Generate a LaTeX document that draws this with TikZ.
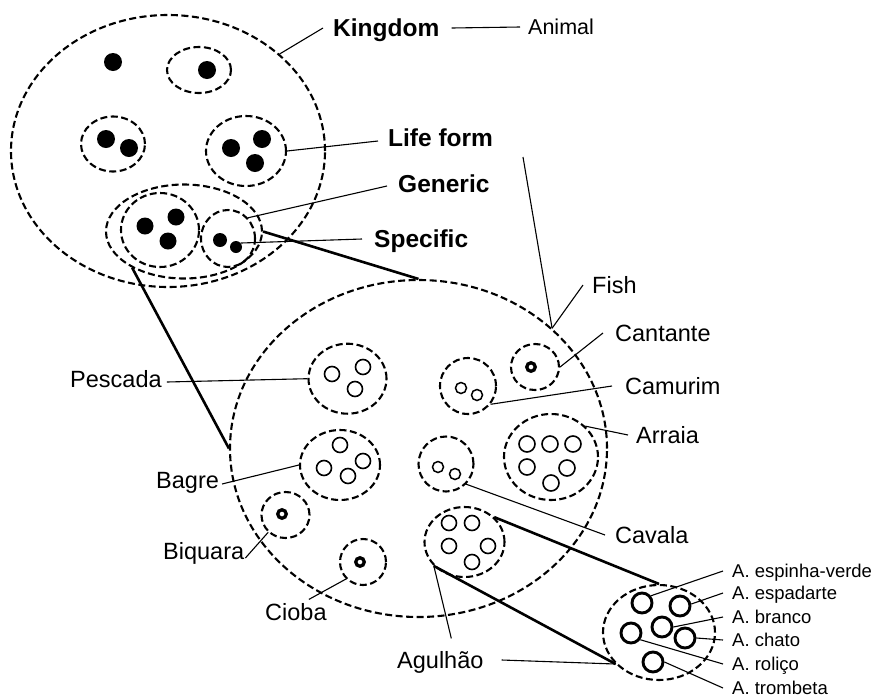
\documentclass[tikz,border=0pt]{standalone}
\usepackage{fontspec}
\setmainfont{Liberation Sans}
\usetikzlibrary{shapes.geometric}
\begin{document}
\begin{tikzpicture}[x=1pt,y=-1pt,
 ring/.style={ellipse, draw, dash pattern=on 7pt off 3.5pt, line width=2.1pt, inner sep=0pt},
 dot/.style={circle, fill=black, inner sep=0pt},
 oc/.style={circle, draw, line width=1.6pt, inner sep=0pt, minimum size=15pt},
 ocs/.style={circle, draw, line width=1.5pt, inner sep=0pt, minimum size=11pt},
 tr/.style={circle, draw, line width=3.3pt, inner sep=0pt, minimum size=8.5pt},
 ac/.style={circle, draw, line width=2.9pt, inner sep=0pt, minimum size=20pt},
 lbl/.style={anchor=west, inner sep=0pt, font=\fontsize{23.5}{23.5}\selectfont, text height=16.8pt, text depth=0pt},
 blbl/.style={anchor=west, inner sep=0pt, font=\fontsize{24.5}{24.5}\selectfont\bfseries, text height=17.5pt, text depth=0pt},
 albl/.style={anchor=west, inner sep=0pt, font=\fontsize{18.5}{18.5}\selectfont, text height=13.3pt, text depth=0pt},
 cn/.style={line width=1.1pt},
 tk/.style={line width=2.6pt},
]
\useasboundingbox (0,0) rectangle (879,697);

% ---------- Kingdom ----------
\node[ring, minimum width=314pt, minimum height=272pt] (K) at (168,151) {};
\node[dot, minimum size=18pt] (d1) at (113,62) {};
\node[ring, minimum width=64pt, minimum height=46pt] (k2) at (199,70) {};
\node[dot, minimum size=18pt] (d2) at (207,70) {};
\node[ring, minimum width=64pt, minimum height=55pt] (k3) at (113,144) {};
\node[dot, minimum size=18pt] (d3) at (106,139) {};
\node[dot, minimum size=18pt] (d4) at (129,148) {};
\node[ring, minimum width=80pt, minimum height=70pt] (k4) at (246,151) {};
\node[dot, minimum size=18pt] (d5) at (231,148) {};
\node[dot, minimum size=18pt] (d6) at (262,139) {};
\node[dot, minimum size=18pt] (d7) at (255,163) {};
\node[ring, minimum width=156pt, minimum height=94pt] (gen) at (184,231.5) {};
\node[ring, minimum width=78pt, minimum height=74pt] (gen1) at (160,230) {};
\node[dot, minimum size=17pt] (d8) at (145,226) {};
\node[dot, minimum size=17pt] (d9) at (176,217) {};
\node[dot, minimum size=17pt] (d10) at (168,241) {};
\node[ring, minimum width=54pt, minimum height=57pt] (spec) at (228,238.5) {};
\node[dot, minimum size=14pt] (s1) at (220,240) {};
\node[dot, minimum size=12pt] (s2) at (236,247) {};

\node[blbl] (tKing) at (333,28) {Kingdom};
\node[lbl, font=\fontsize{21.5}{21.5}\selectfont, text height=15.4pt] (tAnim) at (528,27) {Animal};
\node[blbl] (tLife) at (388,138) {Life form};
\node[blbl] (tGen) at (398,184) {Generic};
\node[blbl] (tSpec) at (374,239) {Specific};

% ---------- Fish ----------
\node[ring, minimum width=377pt, minimum height=337pt] (F) at (418.5,448.5) {};

\node[ring, minimum width=78pt, minimum height=70pt] (pesc) at (347.5,378.7) {};
\node[oc] (p1) at (332,374) {};
\node[oc] (p2) at (363,367) {};
\node[oc] (p3) at (355,389) {};

\node[ring, minimum width=56pt, minimum height=56pt] (camu) at (468,386) {};
\node[ocs] (c1) at (461,388) {};
\node[ocs] (c2) at (477,395) {};

\node[ring, minimum width=48pt, minimum height=46pt] (cant) at (535,367) {};
\node[tr] (ct1) at (531,367) {};

\node[ring, minimum width=80pt, minimum height=70pt] (bagre) at (340,465) {};
\node[oc] (b1) at (340,445) {};
\node[oc] (b2) at (324,468) {};
\node[oc] (b3) at (363,461) {};
\node[oc] (b4) at (348,476) {};

\node[ring, minimum width=55pt, minimum height=55pt] (cava) at (446,464) {};
\node[ocs] (v1) at (438,467) {};
\node[ocs] (v2) at (455,474) {};

\node[ring, minimum width=94pt, minimum height=86pt] (arr) at (551,457) {};
\node[oc, minimum size=16pt] (r1) at (527,444) {};
\node[oc, minimum size=16pt] (r2) at (550,444) {};
\node[oc, minimum size=16pt] (r3) at (573,444) {};
\node[oc, minimum size=16pt] (r4) at (527,467) {};
\node[oc, minimum size=16pt] (r5) at (567,468) {};
\node[oc, minimum size=16pt] (r6) at (551,483) {};

\node[ring, minimum width=48pt, minimum height=46pt] (biq) at (285.5,515) {};
\node[tr] (bq1) at (282,514) {};

\node[ring, minimum width=46pt, minimum height=46pt] (cio) at (363,562) {};
\node[tr] (ci1) at (360,562) {};

\node[ring, minimum width=80pt, minimum height=70pt] (agul) at (464.5,542) {};
\node[oc] (g1) at (449,523) {};
\node[oc] (g2) at (472,523) {};
\node[oc] (g3) at (449,546) {};
\node[oc] (g4) at (488,546) {};
\node[oc] (g5) at (472,562) {};

\node[lbl] (tFish) at (592,285) {Fish};
\node[lbl] (tCant) at (615,333) {Cantante};
\node[lbl] (tCamu) at (625,386) {Camurim};
\node[lbl] (tArr) at (636,435) {Arraia};
\node[lbl] (tCava) at (615,535) {Cavala};
\node[lbl] (tPesc) at (70,379) {Pescada};
\node[lbl] (tBagre) at (156,480) {Bagre};
\node[lbl] (tBiq) at (163,551) {Biquara};
\node[lbl] (tCio) at (265,612) {Cioba};
\node[lbl] (tAgul) at (397,660) {Agulhão};

% ---------- Agulhao detail ----------
\node[ring, minimum width=112pt, minimum height=95pt] (A) at (659,632.5) {};
\node[ac] (a1) at (642,603) {};
\node[ac] (a2) at (680,606) {};
\node[ac] (a3) at (662,627) {};
\node[ac] (a4) at (631,633) {};
\node[ac] (a5) at (685,638) {};
\node[ac] (a6) at (653,662) {};

\node[albl] (tA1) at (732,571) {A. espinha-verde};
\node[albl] (tA2) at (732,593) {A. espadarte};
\node[albl] (tA3) at (732,617) {A. branco};
\node[albl] (tA4) at (732,640) {A. chato};
\node[albl] (tA5) at (732,664) {A. roliço};
\node[albl] (tA6) at (732,688) {A. trombeta};

% ---------- connectors ----------
\draw[cn] (K.41) -- ([xshift=-10pt]tKing.west);
\draw[cn] ([xshift=12pt]tKing.east) -- ([xshift=-8pt]tAnim.west);
\draw[cn] (k4.east) -- ([shift={(-10,3)}]tLife.west);
\draw[cn] (spec.46) -- ([shift={(-11,2)}]tGen.west);
\draw[cn] (s2.40) -- ([xshift=-12pt]tSpec.west);

\coordinate (lf) at (523,157);
\draw[cn] (lf) -- (F.42.7);
\draw[cn] (F.42.7) -- ([xshift=-9pt]tFish.west);
\draw[cn] (cant.east) -- ([xshift=-12pt]tCant.west);
\draw[cn] (camu.-39) -- ([xshift=-13pt]tCamu.west);
\draw[cn] (arr.42) -- ([xshift=-8pt]tArr.west);
\draw[cn] (cava.-45) -- ([xshift=-10pt]tCava.west);
\draw[cn] ([shift={(5,3)}]tPesc.east) -- (pesc.west);
\draw[cn] ([shift={(3,4)}]tBagre.east) -- (bagre.west);
\draw[cn] ([shift={(1,7)}]tBiq.east) -- (biq.225);
\draw[cn] ([shift={(13,-4)}]tCio.north) -- (cio.225);
\draw[cn] (agul.218) -- ([shift={(11,-13)}]tAgul.north);
\draw[cn] ([xshift=18pt]tAgul.east) -- (A.216.6);

\draw[tk] (gen.east) -- (F.north);
\draw[tk] (gen.215) -- (F.west);
\draw[tk] (agul.40) -- (A.north);
\draw[tk] (agul.218) -- (A.216.6);

\draw[cn] (a1.39) -- ([xshift=-9pt]tA1.west);
\draw[cn] (a2.10) -- ([xshift=-9pt]tA2.west);
\draw[cn] (a3.east) -- ([xshift=-9pt]tA3.west);
\draw[cn] (a5.east) -- ([xshift=-9pt]tA4.west);
\draw[cn] (a4.-36) -- ([xshift=-9pt]tA5.west);
\draw[cn] (a6.east) -- ([xshift=-9pt]tA6.west);
\end{tikzpicture}
\end{document}
